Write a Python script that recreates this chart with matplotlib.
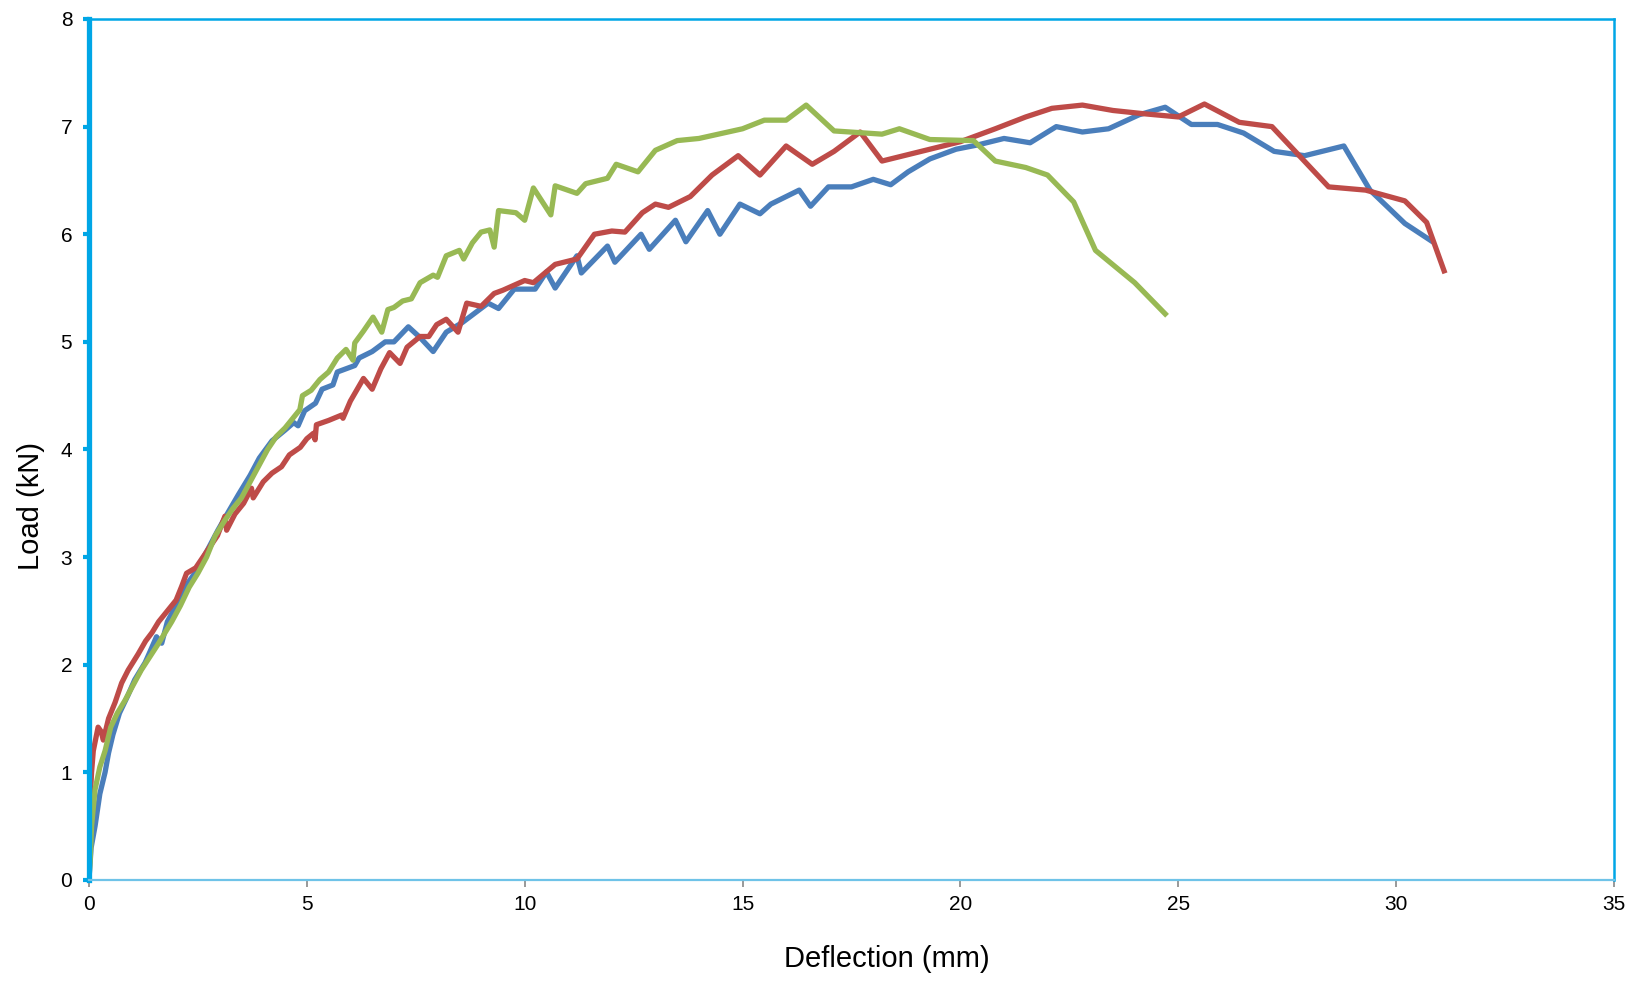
import matplotlib
matplotlib.use("Agg")
import matplotlib.pyplot as plt

plt.rcParams["font.family"] = ["Liberation Sans", "DejaVu Sans"]

# Specimen 1 (blue)
x_blue = [0, 0.05, 0.14, 0.25, 0.37, 0.45, 0.55, 0.7, 0.9, 1.05, 1.29, 1.4, 1.55, 1.67, 1.8,
          2.0, 2.2, 2.48, 2.7, 2.96, 3.2, 3.43, 3.7, 3.91, 4.2, 4.5, 4.7, 4.8, 4.95, 5.2,
          5.35, 5.6, 5.7, 5.9, 6.1, 6.2, 6.5, 6.8, 7.0, 7.33, 7.6, 7.9, 8.2, 8.57, 9.16,
          9.4, 9.76, 10.24, 10.5, 10.7, 11.2, 11.3, 11.9, 12.07, 12.67, 12.86, 13.46, 13.7,
          14.2, 14.48, 14.94, 15.4, 15.65, 16.3, 16.56, 16.97, 17.5, 18.0, 18.4, 18.8, 19.3,
          19.9, 20.4, 21.0, 21.6, 22.2, 22.8, 23.4, 24.1, 24.7, 25.3, 25.9, 26.5, 27.2,
          27.9, 28.8, 29.4, 30.2, 30.8]
y_blue = [0, 0.3, 0.5, 0.8, 1.0, 1.18, 1.35, 1.55, 1.72, 1.86, 2.02, 2.12, 2.26, 2.2, 2.4,
          2.55, 2.72, 2.88, 3.05, 3.25, 3.42, 3.58, 3.76, 3.92, 4.08, 4.18, 4.25, 4.22, 4.36, 4.43,
          4.56, 4.6, 4.72, 4.75, 4.78, 4.85, 4.91, 5.0, 5.0, 5.14, 5.04, 4.91, 5.09, 5.18, 5.36,
          5.31, 5.49, 5.49, 5.65, 5.5, 5.8, 5.64, 5.89, 5.74, 6.0, 5.86, 6.13, 5.93,
          6.22, 6.0, 6.28, 6.19, 6.28, 6.41, 6.26, 6.44, 6.44, 6.51, 6.46, 6.58, 6.7,
          6.79, 6.83, 6.89, 6.85, 7.0, 6.95, 6.98, 7.11, 7.18, 7.02, 7.02, 6.94, 6.77,
          6.73, 6.82, 6.41, 6.1, 5.94]

# Specimen 2 (red)
x_red = [0, 0.02, 0.06, 0.1, 0.21, 0.28, 0.33, 0.45, 0.6, 0.75, 0.9, 1.13, 1.3, 1.45, 1.6,
         1.8, 2.0, 2.13, 2.24, 2.45, 2.7, 2.95, 3.12, 3.16, 3.35, 3.55, 3.73, 3.77, 4.0,
         4.2, 4.42, 4.6, 4.85, 5.0, 5.15, 5.19, 5.22, 5.5, 5.8, 5.83, 6.0, 6.3, 6.5, 6.7,
         6.9, 7.14, 7.3, 7.6, 7.8, 7.98, 8.2, 8.47, 8.67, 9.0, 9.3, 9.5, 10.0, 10.2, 10.7,
         11.2, 11.6, 12.0, 12.3, 12.7, 13.0, 13.3, 13.8, 14.3, 14.9, 15.4, 16.0, 16.6,
         17.1, 17.7, 18.2, 19.0, 20.0, 20.8, 21.5, 22.1, 22.8, 23.5, 24.2, 25.0, 25.6,
         26.4, 27.15, 28.45, 29.3, 30.2, 30.7, 31.1]
y_red = [0, 0.68, 1.0, 1.2, 1.42, 1.38, 1.3, 1.5, 1.65, 1.83, 1.95, 2.1, 2.22, 2.3, 2.4,
         2.5, 2.6, 2.73, 2.85, 2.9, 3.05, 3.2, 3.38, 3.25, 3.4, 3.5, 3.64, 3.55, 3.7,
         3.78, 3.84, 3.95, 4.02, 4.1, 4.15, 4.09, 4.23, 4.27, 4.32, 4.29, 4.45, 4.66, 4.56, 4.75,
         4.9, 4.8, 4.95, 5.05, 5.05, 5.16, 5.21, 5.09, 5.36, 5.33, 5.45, 5.48, 5.57, 5.55, 5.72,
         5.77, 6.0, 6.03, 6.02, 6.2, 6.28, 6.25, 6.35, 6.55, 6.73, 6.55, 6.82, 6.65,
         6.77, 6.95, 6.68, 6.76, 6.86, 6.98, 7.09, 7.17, 7.2, 7.15, 7.12, 7.09, 7.21,
         7.04, 7.0, 6.44, 6.41, 6.31, 6.11, 5.66]

# Specimen 3 (green)
x_green = [0, 0.03, 0.06, 0.14, 0.25, 0.37, 0.5, 0.65, 0.83, 1.0, 1.2, 1.44, 1.6, 1.75,
           1.9, 2.1, 2.3, 2.5, 2.7, 2.9, 3.1, 3.3, 3.5, 3.7, 3.9, 4.1, 4.3, 4.5, 4.7, 4.84,
           4.9, 5.1, 5.3, 5.5, 5.7, 5.9, 6.06, 6.1, 6.3, 6.52, 6.72, 6.86, 7.0, 7.2, 7.4,
           7.6, 7.9, 8.0, 8.2, 8.5, 8.6, 8.8, 9.0, 9.2, 9.3, 9.4, 9.8, 10.0, 10.2, 10.6,
           10.7, 11.2, 11.4, 11.9, 12.1, 12.6, 13.0, 13.5, 14.0, 15.0, 15.5, 16.0, 16.46,
           17.1, 18.2, 18.6, 19.3, 20.3, 20.8, 21.5, 22.0, 22.6, 23.1, 24.0, 24.7]
y_green = [0, 0.2, 0.5, 0.84, 1.05, 1.2, 1.42, 1.55, 1.67, 1.8, 1.95, 2.1, 2.2, 2.3,
           2.4, 2.55, 2.72, 2.85, 3.0, 3.2, 3.33, 3.45, 3.55, 3.7, 3.85, 4.0, 4.12, 4.2, 4.3, 4.37,
           4.5, 4.55, 4.65, 4.72, 4.85, 4.93, 4.83, 4.99, 5.1, 5.23, 5.09, 5.3, 5.32, 5.38, 5.4,
           5.55, 5.62, 5.6, 5.8, 5.85, 5.77, 5.92, 6.02, 6.04, 5.88, 6.22, 6.2, 6.13, 6.43, 6.18,
           6.45, 6.38, 6.47, 6.52, 6.65, 6.58, 6.78, 6.87, 6.89, 6.98, 7.06, 7.06, 7.2,
           6.96, 6.93, 6.98, 6.88, 6.87, 6.68, 6.62, 6.55, 6.3, 5.85, 5.55, 5.26]

fig, ax = plt.subplots(figsize=(16.29, 9.84), dpi=100)
fig.subplots_adjust(left=0.0546, right=0.9908, bottom=0.1057, top=0.9807)

ax.plot(x_blue, y_blue, color="#4a7ebb", lw=3.8, solid_joinstyle="round")
ax.plot(x_red, y_red, color="#be4b48", lw=3.8, solid_joinstyle="round")
ax.plot(x_green, y_green, color="#98b954", lw=3.8, solid_joinstyle="round")

ax.set_xlim(0, 35)
ax.set_ylim(0, 8)
ax.set_xticks(range(0, 36, 5))
ax.set_yticks(range(0, 9))

spine_blue = "#00a6e6"
ax.spines["left"].set_color(spine_blue)
ax.spines["left"].set_linewidth(3.8)
for s in ["top", "right"]:
    ax.spines[s].set_color(spine_blue)
    ax.spines[s].set_linewidth(1.8)
ax.spines["bottom"].set_color("#6fc3e8")
ax.spines["bottom"].set_linewidth(1.6)

ax.tick_params(axis="y", direction="out", length=4, width=3, color=spine_blue,
               labelsize=15, pad=8)
ax.tick_params(axis="x", direction="out", length=5, width=1.2, color="#888888",
               labelsize=15, pad=6)

ax.set_xlabel("Deflection (mm)", fontsize=21)
ax.set_ylabel("Load (kN)", fontsize=21)
ax.xaxis.set_label_coords(0.523, -0.075)
ax.yaxis.set_label_coords(-0.029, 0.434)

fig.savefig("out.png", dpi=100, facecolor="white")
